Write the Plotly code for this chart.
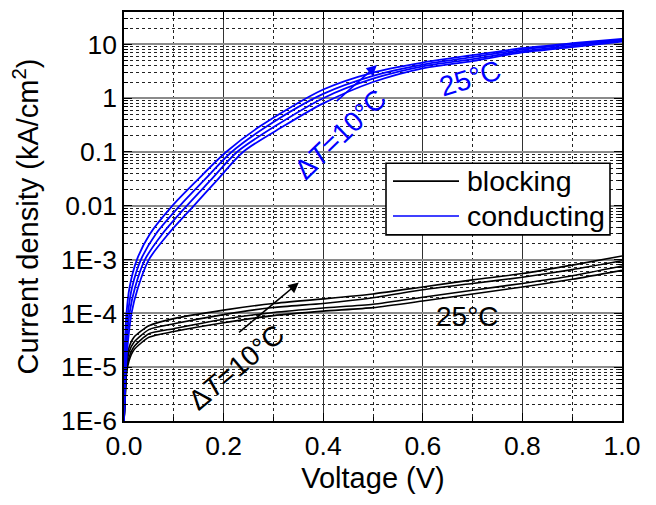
import numpy as np
import plotly.graph_objects as go

# ---- data -------------------------------------------------------------
# Blocking-state curves (kA/cm^2), from the hottest (top) to 25 °C (bottom)
v_block = [0.0, 0.002, 0.005, 0.01, 0.02, 0.05, 0.1, 0.2, 0.3, 0.4, 0.5, 0.6, 0.7, 0.8, 0.9, 1.0]
j_block_55 = [1e-6, 3.0e-6, 1.2e-5, 2.3e-5, 3.6e-5, 5.9e-5, 8.0e-5, 1.15e-4, 1.53e-4, 1.86e-4, 2.3e-4, 3.1e-4, 4.2e-4, 5.5e-4, 7.9e-4, 1.17e-3]
j_block_45 = [1e-6, 2.7e-6, 1.0e-5, 1.9e-5, 2.9e-5, 5.0e-5, 6.4e-5, 9.5e-5, 1.29e-4, 1.53e-4, 1.95e-4, 2.75e-4, 3.6e-4, 4.7e-4, 6.5e-4, 9.5e-4]
j_block_35 = [1e-6, 2.4e-6, 8.5e-6, 1.5e-5, 2.4e-5, 4.2e-5, 5.2e-5, 7.8e-5, 1.04e-4, 1.26e-4, 1.48e-4, 2.0e-4, 2.7e-4, 3.6e-4, 5.0e-4, 7.6e-4]
j_block_25 = [1e-6, 2.2e-6, 7.5e-6, 1.3e-5, 2.1e-5, 3.6e-5, 4.6e-5, 6.7e-5, 9.1e-5, 1.1e-4, 1.28e-4, 1.7e-4, 2.3e-4, 3.1e-4, 4.3e-4, 6.3e-4]

# Conducting-state curves: voltage reached at each current level (low-current part),
# hottest (left) to 25 °C (right)
j_cond_low = [1e-6, 1e-5, 3e-5, 1e-4, 3e-4, 1e-3, 3e-3, 1e-2, 3e-2, 0.1, 0.3]
v_cond_55 = [0.0, 0.001, 0.002, 0.005, 0.011, 0.026, 0.052, 0.097, 0.147, 0.205, 0.273]
v_cond_45 = [0.0, 0.002, 0.004, 0.008, 0.016, 0.034, 0.064, 0.112, 0.161, 0.216, 0.287]
v_cond_35 = [0.0, 0.003, 0.006, 0.011, 0.022, 0.042, 0.077, 0.126, 0.174, 0.227, 0.303]
v_cond_25 = [0.0, 0.004, 0.008, 0.015, 0.028, 0.050, 0.089, 0.140, 0.187, 0.239, 0.320]
# high-current part: current density at fixed voltages
v_cond_high = [0.4, 0.5, 0.6, 0.7, 0.8, 0.9, 1.0]
j_cond_high_55 = [1.45, 3.0, 4.6, 6.3, 8.5, 10.5, 12.6]
j_cond_high_45 = [1.2, 2.6, 4.2, 5.8, 8.0, 10.0, 12.2]
j_cond_high_35 = [1.0, 2.3, 3.9, 5.3, 7.5, 9.4, 11.8]
j_cond_high_25 = [0.8, 2.0, 3.6, 4.9, 7.1, 8.9, 11.3]

x_ticks = [0.0, 0.2, 0.4, 0.6, 0.8, 1.0]
x_ticktext = ["0.0", "0.2", "0.4", "0.6", "0.8", "1.0"]
y_ticks = [1e-6, 1e-5, 1e-4, 1e-3, 1e-2, 1e-1, 1, 10]
y_ticktext = ["1E-6", "1E-5", "1E-4", "1E-3", "0.01", "0.1", "1", "10"]
y_top = 40

FONT = "Liberation Sans, Arial, sans-serif"

fig = go.Figure()

block_sets = [j_block_55, j_block_45, j_block_35, j_block_25]
for j in block_sets:
    fig.add_trace(go.Scatter(x=v_block, y=j, mode="lines",
                             line=dict(color="black", width=1.6, shape="spline", smoothing=0.6),
                             showlegend=False, hoverinfo="skip"))

cond_sets = [(v_cond_55, j_cond_high_55), (v_cond_45, j_cond_high_45),
             (v_cond_35, j_cond_high_35), (v_cond_25, j_cond_high_25)]
for v_low, j_high in cond_sets:
    fig.add_trace(go.Scatter(x=list(v_low) + v_cond_high, y=list(j_cond_low) + j_high, mode="lines",
                             line=dict(color="#0000ff", width=1.8, shape="spline", smoothing=0.8),
                             showlegend=False, hoverinfo="skip"))

# minor gridlines at 2..9 of every decade
minor_vals = [m * 10.0 ** e for e in range(-6, 2) for m in range(2, 10) if m * 10.0 ** e < y_top]

fig.update_xaxes(
    range=[0, 1], tickvals=x_ticks, ticktext=x_ticktext,
    ticks="inside", ticklen=8, tickwidth=1.3, tickcolor="black",
    showline=True, linecolor="black", linewidth=1.6, mirror="allticks",
    showgrid=True, gridcolor="#333333", gridwidth=1,
    zeroline=False,
    minor=dict(dtick=0.1, tick0=0, ticks="inside", ticklen=4, tickcolor="black",
               showgrid=True, griddash="dot", gridcolor="#222222", gridwidth=1),
    tickfont=dict(family=FONT, size=26.5, color="black"),
    title=dict(text="Voltage (V)", font=dict(family=FONT, size=29, color="black"), standoff=8),
)
fig.update_yaxes(
    type="log", range=[-6, np.log10(y_top)], tickvals=y_ticks, ticktext=y_ticktext,
    ticks="inside", ticklen=8, tickwidth=1.3, tickcolor="black",
    showline=True, linecolor="black", linewidth=1.6, mirror="allticks",
    showgrid=True, gridcolor="#8a8a8a", gridwidth=2,
    zeroline=False,
    minor=dict(tickmode="array", tickvals=minor_vals, ticks="inside", ticklen=4, tickcolor="black",
               showgrid=True, griddash="dot", gridcolor="#222222", gridwidth=1),
    tickfont=dict(family=FONT, size=26.5, color="black"),
    title=dict(text="Current density (kA/cm<sup>2</sup>)",
               font=dict(family=FONT, size=29, color="black"), standoff=14),
)

# legend box drawn in paper coordinates
def px_x(p):
    return (p - 124) / 498.0

def px_y(p):
    return (421 - p) / 411.0

shapes = [
    dict(type="rect", xref="paper", yref="paper", x0=px_x(386), x1=px_x(610), y0=px_y(234), y1=px_y(162),
         line=dict(color="black", width=1.6), fillcolor="white", layer="above"),
    dict(type="line", xref="paper", yref="paper", x0=px_x(393), x1=px_x(459), y0=px_y(180), y1=px_y(180),
         line=dict(color="black", width=1.6), layer="above"),
    dict(type="line", xref="paper", yref="paper", x0=px_x(393), x1=px_x(459), y0=px_y(215), y1=px_y(215),
         line=dict(color="#0000ff", width=1.6), layer="above"),
]
fig.update_layout(shapes=shapes)

ann_font_k = dict(family=FONT, size=28, color="black")
ann_font_b = dict(family=FONT, size=28, color="#0000ff")
leg_font = dict(family=FONT, size=28.5, color="black")
annotations = [
    dict(xref="paper", yref="paper", x=px_x(465), y=px_y(180), text="blocking", showarrow=False,
         xanchor="left", yanchor="middle", font=leg_font),
    dict(xref="paper", yref="paper", x=px_x(465), y=px_y(215), text="conducting", showarrow=False,
         xanchor="left", yanchor="middle", font=leg_font),
    # temperature arrows
    dict(xref="x", yref="y", axref="x", ayref="y", x=0.508, y=0.615, ax=0.424, ay=-0.08,
         text="", showarrow=True, arrowhead=2, arrowsize=1.3, arrowwidth=1.6, arrowcolor="#0000ff"),
    dict(xref="x", yref="y", axref="x", ayref="y", x=0.351, y=-3.426, ax=0.228, ay=-4.376,
         text="", showarrow=True, arrowhead=2, arrowsize=1.3, arrowwidth=1.6, arrowcolor="black"),
    # labels
    dict(xref="x", yref="y", x=0.434, y=-0.672, text="\u0394<i>T</i>=10\u00b0C", showarrow=False,
         textangle=-44, font=ann_font_b),
    dict(xref="x", yref="y", x=0.695, y=0.365, text="25\u00b0C", showarrow=False,
         textangle=-17, font=ann_font_b),
    dict(xref="x", yref="y", x=0.225, y=-5.006, text="\u0394<i>T</i>=10\u00b0C", showarrow=False,
         textangle=-40, font=ann_font_k),
    dict(xref="x", yref="y", x=0.689, y=-4.061, text="25\u00b0C", showarrow=False,
         font=ann_font_k),
]
fig.update_layout(annotations=annotations)

fig.update_layout(
    width=656, height=505,
    margin=dict(l=124, r=34, t=10, b=84),
    paper_bgcolor="white", plot_bgcolor="white",
    showlegend=False,
    font=dict(family=FONT, color="black"),
)

fig.write_html("out.html")
